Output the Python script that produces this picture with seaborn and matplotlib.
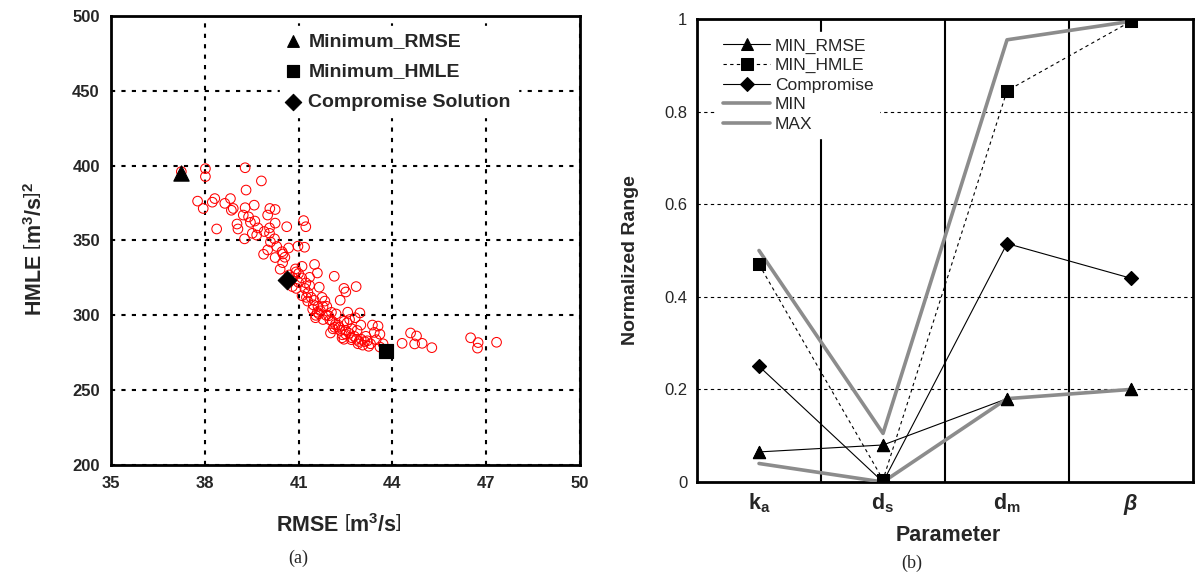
import numpy as np
import pandas as pd
import matplotlib.pyplot as plt
import seaborn as sns

# ---------------- (a) Pareto front data ----------------
rmse = [37.25, 38.02, 38.02, 39.29, 39.81, 37.77, 37.95, 38.24, 38.32, 38.38,
        38.64, 38.82, 38.85, 38.91, 39.32, 39.29, 39.58, 39.03, 39.06, 39.23,
        39.40, 39.46, 39.27, 39.52, 39.66, 39.70, 40.08, 40.25, 40.01, 40.25,
        40.07, 40.07, 40.23, 40.62, 39.88, 40.01, 40.25, 40.47, 40.56, 40.68,
        40.41, 40.49, 40.98, 41.19, 41.16, 41.23, 41.11, 40.92, 40.80, 41.51,
        41.60, 41.35, 41.23, 41.66, 40.92, 40.80, 41.11, 41.29, 41.47, 41.84,
        41.78, 41.60, 41.54, 41.78, 41.96, 42.14, 42.45, 42.51, 42.84, 42.33,
        42.96, 42.57, 42.20, 42.08, 42.26, 42.45, 42.63, 42.81, 42.02, 42.33,
        42.51, 42.69, 42.87, 42.99, 42.39, 42.69, 42.93, 43.11, 43.05, 43.24,
        43.36, 43.54, 43.42, 43.60, 43.48, 43.60, 44.31, 44.58, 44.77, 44.71,
        44.95, 45.26, 46.50, 46.74, 46.72, 47.33,
        41.30, 41.40, 41.50, 41.62, 41.70, 41.88, 42.00, 42.18, 42.30, 42.50,
        42.62, 42.78, 43.00, 43.20, 41.45, 41.55, 41.20, 41.00, 41.10, 41.35,
        42.15, 42.45, 42.70, 42.90, 43.30, 43.70, 42.05, 41.90, 41.75, 40.30,
        40.50, 40.90, 41.00, 39.60, 39.90, 40.10, 40.70, 41.25, 41.65, 42.10,
        42.40, 42.55, 42.85, 43.15]
hmle = [396.0, 398.0, 392.7, 398.6, 389.8, 376.3, 371.4, 375.6, 378.0, 357.7,
        374.8, 378.0, 370.2, 371.4, 383.7, 371.9, 373.6, 361.0, 357.7, 367.0,
        365.8, 362.1, 351.1, 354.8, 353.6, 358.4, 371.4, 370.7, 367.0, 361.6,
        358.4, 354.8, 351.1, 359.2, 340.8, 343.7, 338.6, 342.5, 338.8, 345.0,
        330.8, 335.2, 346.2, 345.5, 363.3, 359.2, 332.7, 329.0, 325.4, 334.0,
        328.3, 325.4, 321.7, 318.8, 318.0, 319.2, 313.1, 309.5, 307.0, 309.5,
        305.8, 302.1, 298.4, 297.2, 299.7, 326.1, 318.0, 315.6, 319.2, 310.1,
        301.6, 302.1, 300.9, 296.0, 293.5, 296.0, 297.2, 298.4, 288.2, 289.9,
        287.4, 291.1, 289.9, 293.5, 285.0, 283.7, 282.5, 282.5, 280.1, 279.3,
        293.5, 292.8, 288.6, 287.4, 283.7, 278.8, 281.3, 288.2, 286.2, 280.9,
        281.3, 278.4, 285.0, 281.8, 278.1, 282.0,
        315.0, 312.0, 310.0, 306.0, 303.0, 300.0, 297.0, 294.0, 292.0, 290.0,
        288.0, 286.0, 284.0, 283.0, 304.0, 300.0, 318.0, 322.0, 325.0, 320.0,
        292.0, 284.0, 285.0, 281.0, 281.0, 281.0, 302.0, 306.0, 312.0, 346.0,
        341.0, 331.0, 328.0, 363.0, 356.0, 349.0, 327.0, 312.0, 301.0, 291.0,
        287.0, 295.0, 284.0, 286.0]

best_rmse = [37.25, 395.0]
best_hmle = [43.81, 276.0]
compromise_pt = [40.62, 323.7]

# ---------------- (b) normalized parameter data ----------------
params = ['ka', 'ds', 'dm', 'beta']
param_labels = [r'$\mathbf{k_a}$', r'$\mathbf{d_s}$', r'$\mathbf{d_m}$', r'$\mathbfit{\beta}$']
min_rmse = [0.065, 0.08, 0.18, 0.20]
min_hmle = [0.47, 0.005, 0.845, 0.995]
compromise = [0.25, 0.0, 0.515, 0.44]
range_min = [0.04, 0.0, 0.18, 0.20]
range_max = [0.50, 0.105, 0.955, 0.995]

sns.set_style('white')
plt.rcParams['font.family'] = ['Liberation Sans', 'DejaVu Sans']
plt.rcParams['mathtext.fontset'] = 'custom'
plt.rcParams['mathtext.rm'] = 'Liberation Sans'
plt.rcParams['mathtext.bf'] = 'Liberation Sans:bold'
plt.rcParams['mathtext.it'] = 'Liberation Sans:italic'
plt.rcParams['mathtext.bfit'] = 'Liberation Sans:bold:italic'

fig = plt.figure(figsize=(11.97, 5.75), dpi=100)

# ================= panel (a) =================
ax1 = fig.add_axes([0.0927, 0.1913, 0.3919, 0.7809])
df = pd.DataFrame({'RMSE': rmse, 'HMLE': hmle})
sns.scatterplot(data=df, x='RMSE', y='HMLE', ax=ax1, marker='o', s=48,
                facecolors='none', edgecolor='red', linewidth=0.75, zorder=3)

sns.scatterplot(x=[best_rmse[0]], y=[best_rmse[1]], ax=ax1, marker='^', s=120,
                color='black', edgecolor='black', label='Minimum_RMSE', zorder=4)
sns.scatterplot(x=[best_hmle[0]], y=[best_hmle[1]], ax=ax1, marker='s', s=110,
                color='black', edgecolor='black', label='Minimum_HMLE', zorder=4)
sns.scatterplot(x=[compromise_pt[0]], y=[compromise_pt[1]], ax=ax1, marker='D', s=90,
                color='black', edgecolor='black', label='Compromise Solution', zorder=4)

ax1.set_xlim(35, 50)
ax1.set_ylim(200, 500)
ax1.set_xticks(np.arange(35, 51, 3))
ax1.set_yticks(np.arange(200, 501, 50))
ax1.grid(True, color='black', linestyle=(0, (2, 3)), linewidth=1.5)
ax1.tick_params(direction='in', length=3, width=1.5, labelsize=12, pad=8)
for lab in ax1.get_xticklabels() + ax1.get_yticklabels():
    lab.set_fontweight('bold')
for sp in ax1.spines.values():
    sp.set_linewidth(2)
    sp.set_color('black')

ax1.set_xlabel(r'RMSE $\left[\mathbf{m^3/s}\right]$', fontsize=15.5, fontweight='bold')
ax1.set_ylabel(r'HMLE $\left[\mathbf{m^3/s}\right]^\mathbf{2}$', fontsize=15.5, fontweight='bold')
ax1.xaxis.set_label_coords(0.486, -0.11)
ax1.yaxis.set_label_coords(-0.137, 0.48)

leg1 = ax1.legend(loc='upper left', bbox_to_anchor=(0.34, 1.0), frameon=True,
                  facecolor='white', edgecolor='white', framealpha=1,
                  fancybox=False, handlelength=0.6, handletextpad=0.5,
                  labelspacing=0.65, borderpad=0.35,
                  prop={'weight': 'bold', 'size': 14})
for h in leg1.legend_handles:
    h.set_sizes([70])

# ================= panel (b) =================
ax2 = fig.add_axes([0.5823, 0.1617, 0.4144, 0.8053])
pos = np.arange(len(params))

for xs in [0.5, 1.5, 2.5]:
    ax2.axvline(xs, color='black', linewidth=1.5, zorder=1)

sns.lineplot(x=pos, y=min_rmse, ax=ax2, color='black', linewidth=0.8, marker='^',
             markersize=9, markeredgecolor='black', label='MIN_RMSE', zorder=2, sort=False)
sns.lineplot(x=pos, y=min_hmle, ax=ax2, color='black', linewidth=0.8, marker='s',
             markersize=8, markeredgecolor='black', linestyle=(0, (3, 3)),
             label='MIN_HMLE', zorder=2, sort=False)
sns.lineplot(x=pos, y=compromise, ax=ax2, color='black', linewidth=0.8, marker='D',
             markersize=7.5, markeredgecolor='black', label='Compromise', zorder=2, sort=False)
sns.lineplot(x=pos, y=range_min, ax=ax2, color='#8c8c8c', linewidth=2.6,
             label='MIN', zorder=3, sort=False)
sns.lineplot(x=pos, y=range_max, ax=ax2, color='#8c8c8c', linewidth=2.6,
             label='MAX', zorder=3, sort=False)

# markers again on top of the grey range lines
sns.scatterplot(x=pos, y=min_rmse, ax=ax2, marker='^', s=80, color='black',
                edgecolor='black', zorder=5, legend=False)
sns.scatterplot(x=pos, y=min_hmle, ax=ax2, marker='s', s=64, color='black',
                edgecolor='black', zorder=5, legend=False)
sns.scatterplot(x=pos, y=compromise, ax=ax2, marker='D', s=50, color='black',
                edgecolor='black', zorder=5, legend=False)

ax2.set_xlim(-0.5, 3.5)
ax2.set_ylim(0, 1)
ax2.set_xticks(pos)
ax2.set_xticklabels(param_labels, fontsize=15.5)
ax2.set_yticks([0, 0.2, 0.4, 0.6, 0.8, 1.0])
ax2.set_yticklabels(['0', '0.2', '0.4', '0.6', '0.8', '1'], fontsize=12)
ax2.yaxis.grid(True, color='black', linestyle=(0, (3, 3)), linewidth=0.8)
ax2.xaxis.grid(False)
ax2.tick_params(length=0, pad=7)
for sp in ax2.spines.values():
    sp.set_linewidth(2)
    sp.set_color('black')

ax2.set_xlabel('Parameter', fontsize=15.5, fontweight='bold')
ax2.set_ylabel('Normalized Range', fontsize=14, fontweight='bold')
ax2.xaxis.set_label_coords(0.506, -0.093)
ax2.yaxis.set_label_coords(-0.117, 0.48)

ax2.legend(loc='upper left', bbox_to_anchor=(0.022, 0.99), frameon=True,
           facecolor='white', edgecolor='white', framealpha=1, fancybox=False,
           handlelength=2.75, handletextpad=0.25, labelspacing=0.25,
           borderpad=0.35, fontsize=12.5)

fig.text(298 / 1197, 1 - 558 / 575, '(a)', ha='center', va='center',
         fontsize=13, family='Liberation Serif')
fig.text(912 / 1197, 1 - 563 / 575, '(b)', ha='center', va='center',
         fontsize=13, family='Liberation Serif')

fig.savefig('out.png', dpi=100)
